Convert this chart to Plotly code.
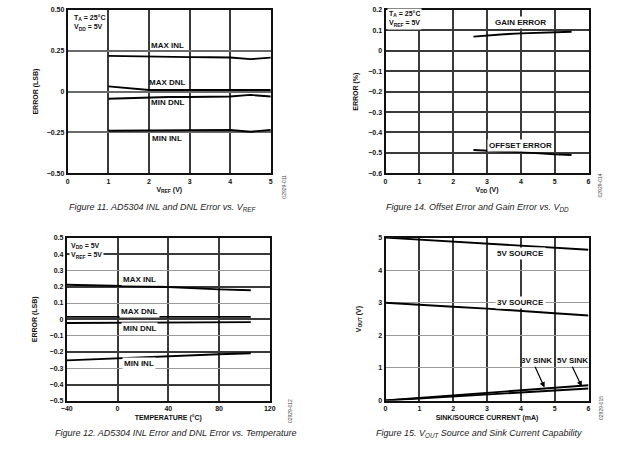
import plotly.graph_objects as go

# ---------------- data ----------------
# Figure 11: INL / DNL error vs VREF
vref = [1.0, 1.5, 2.0, 2.5, 3.0, 3.5, 4.0, 4.5, 5.0]
f11_max_inl = [0.219, 0.216, 0.214, 0.212, 0.211, 0.210, 0.209, 0.199, 0.208]
f11_max_dnl = [0.032, 0.020, 0.010, 0.010, 0.010, 0.010, 0.010, 0.010, 0.010]
f11_min_dnl = [-0.044, -0.039, -0.034, -0.033, -0.033, -0.031, -0.030, -0.020, -0.030]
f11_min_inl = [-0.239, -0.239, -0.239, -0.238, -0.238, -0.237, -0.235, -0.245, -0.235]

# Figure 14: offset / gain error vs VDD
vdd = [2.6, 3.0, 3.5, 4.0, 4.5, 5.0, 5.5]
gain_err = [0.069, 0.075, 0.081, 0.085, 0.088, 0.091, 0.093]
offset_err = [-0.486, -0.490, -0.493, -0.496, -0.502, -0.507, -0.510]

# Figure 12: INL / DNL error vs temperature
temp = [-40, 0, 40, 80, 105]
f12_max_inl = [0.212, 0.206, 0.198, 0.184, 0.178]
f12_max_dnl = [0.015, 0.015, 0.015, 0.015, 0.015]
f12_min_dnl = [-0.023, -0.021, -0.020, -0.018, -0.017]
f12_min_inl = [-0.252, -0.238, -0.228, -0.214, -0.208]

# Figure 15: VOUT source / sink capability
current = [0, 1, 2, 3, 4, 5, 6]
src_5v = [5.00, 4.94, 4.88, 4.82, 4.76, 4.69, 4.63]
src_3v = [3.00, 2.95, 2.88, 2.82, 2.76, 2.68, 2.61]
sink_3v = [0.00, 0.08, 0.16, 0.24, 0.32, 0.40, 0.47]
sink_5v = [0.00, 0.06, 0.12, 0.18, 0.24, 0.30, 0.37]

# tick labels
f11_yticks = [0.50, 0.25, 0, -0.25, -0.50]
f11_yticktext = ["0.50", "0.25", "0", "\u22120.25", "\u22120.50"]
f12_xticks = [-40, 0, 40, 80, 120]
f12_xticktext = ["\u221240", "0", "40", "80", "120"]

captions = [
    "Figure 11. AD5304 INL and DNL Error vs. V<sub>REF</sub>",
    "Figure 14. Offset Error and Gain Error vs. V<sub>DD</sub>",
    "Figure 12. AD5304 INL Error and DNL Error vs. Temperature",
    "Figure 15. V<sub>OUT</sub> Source and Sink Current Capability",
]
codes = ["02929-011", "02929-014", "02929-012", "02929-015"]

# ---------------- style ----------------
FONT = "Liberation Sans, Arial, sans-serif"
CAPFONT = "Liberation Sans Narrow, Arial Narrow, Liberation Sans, sans-serif"
tickfont = dict(family=FONT, size=7, color="#111", weight="bold")
lblfont = dict(family=FONT, size=8, color="#111", weight="bold")
titlefont = dict(family=FONT, size=7, color="#111", weight="bold")
LINE = dict(color="black", width=1.9)
DARK = "#3a3a3a"
LIGHT = "#9a9a9a"

fig = go.Figure()

def add_line(x, y, xa, ya):
    fig.add_trace(go.Scatter(x=x, y=y, mode="lines", line=LINE, xaxis=xa, yaxis=ya,
                             showlegend=False, hoverinfo="skip"))

for s in [f11_max_inl, f11_max_dnl, f11_min_dnl, f11_min_inl]:
    add_line(vref, s, "x", "y")
for s in [gain_err, offset_err]:
    add_line(vdd, s, "x2", "y2")
for s in [f12_max_inl, f12_max_dnl, f12_min_dnl, f12_min_inl]:
    add_line(temp, s, "x3", "y3")
for s in [src_5v, src_3v, sink_3v, sink_5v]:
    add_line(current, s, "x4", "y4")

def xax(domain, rng, dtick, anchor, gridcolor, title, standoff=6, gw=2, **kw):
    d = dict(domain=domain, range=rng, dtick=dtick, anchor=anchor, showgrid=True,
             gridcolor=gridcolor, gridwidth=gw, zeroline=False, showline=True,
             mirror=True, linecolor="#111", linewidth=2, ticks="", tickfont=tickfont,
             ticklen=0, title=dict(text=title, font=titlefont, standoff=standoff), fixedrange=True)
    d.update(kw)
    return d

yax = xax

px = lambda v: v / 620.0
py = lambda v: 1 - v / 455.0

fig.update_layout(
    width=620, height=455, margin=dict(l=0, r=0, t=0, b=0),
    paper_bgcolor="white", plot_bgcolor="white", showlegend=False,
    xaxis=xax([px(63), px(270)], [0, 5], 1, "y", DARK, "V<sub>REF</sub> (V)", 3),
    yaxis=yax([py(172), py(6)], [-0.5, 0.5], 0.25, "x", "#6a6a6a", "ERROR (LSB)", 7,
              tickmode="array", tickvals=f11_yticks, ticktext=f11_yticktext),
    xaxis2=xax([px(387), px(594)], [0, 6], 1, "y2", DARK, "V<sub>DD</sub> (V)", 3),
    yaxis2=yax([py(172), py(6)], [-0.6, 0.2], 0.1, "x2", DARK, "ERROR (%)", 9),
    xaxis3=xax([px(62), px(269)], [-40, 120], 40, "y3", DARK, "TEMPERATURE (\u00b0C)", 4,
               tickmode="array", tickvals=f12_xticks, ticktext=f12_xticktext),
    yaxis3=yax([py(403), py(237.5)], [-0.5, 0.5], 0.1, "x3", LIGHT, "ERROR (LSB)", 11, gw=1),
    yaxis5=dict(domain=[py(403), py(237.5)], range=[-0.5, 0.5], dtick=0.2, tick0=0,
                overlaying="y3", anchor="x3", showgrid=True, gridcolor=DARK, gridwidth=2,
                zeroline=False, showticklabels=False, showline=False, fixedrange=True),
    xaxis4=xax([px(387), px(594)], [0, 6], 1, "y4", DARK, "SINK/SOURCE CURRENT (mA)", 4),
    yaxis4=yax([py(402.7), py(237.3)], [0, 5], 1, "x4", LIGHT, "V<sub>OUT</sub> (V)", 16, gw=1),
)
# dummy trace so overlay grid axis renders
fig.add_trace(go.Scatter(x=[None], y=[None], xaxis="x3", yaxis="y5", showlegend=False))

ann = []
def label(text, x, y, xr, yr, bg=None, align="center", xanchor="center", font=lblfont):
    d = dict(text=text, x=x, y=y, xref=xr, yref=yr, showarrow=False, font=font,
             align=align, xanchor=xanchor, yanchor="middle")
    if bg:
        d.update(bgcolor=bg, borderpad=1)
    ann.append(d)

small = dict(family=FONT, size=7, color="#111", weight="bold")
# Figure 11 labels
label("MAX INL", 2.45, 0.285, "x", "y")
label("MAX DNL", 2.45, 0.054, "x", "y")
label("MIN DNL", 2.45, -0.066, "x", "y")
label("MIN INL", 2.45, -0.287, "x", "y")
label("T<sub>A</sub> = 25\u00b0C<br>V<sub>DD</sub> = 5V", 0.1, 0.42, "x", "y", align="left", xanchor="left", font=small)
# Figure 14 labels
label("GAIN ERROR", 4.0, 0.14, "x2", "y2", bg="white")
label("OFFSET ERROR", 4.0, -0.463, "x2", "y2", bg="white")
label("T<sub>A</sub> = 25\u00b0C<br>V<sub>REF</sub> = 5V", 0.05, 0.155, "x2", "y2", align="left", xanchor="left",
      bg="white", font=small)
# Figure 12 labels
label("MAX INL", 17, 0.244, "x3", "y3", bg="white")
label("MAX DNL", 17, 0.049, "x3", "y3", bg="white")
label("MIN DNL", 17, -0.059, "x3", "y3", bg="white")
label("MIN INL", 17, -0.269, "x3", "y3", bg="white")
label("V<sub>DD</sub> = 5V<br>V<sub>REF</sub> = 5V", -38, 0.42, "x3", "y3", align="left", xanchor="left",
      bg="white", font=small)
# Figure 15 labels
label("5V SOURCE", 3.98, 4.52, "x4", "y4", bg="white")
label("3V SOURCE", 3.98, 3.02, "x4", "y4", bg="white")
label("3V SINK", 4.45, 1.22, "x4", "y4")
label("5V SINK", 5.52, 1.22, "x4", "y4")
for (tx, ty, hx, hy) in [(4.4, 1.08, 4.7, 0.40), (5.5, 1.08, 5.8, 0.43)]:
    ann.append(dict(text="", x=hx, y=hy, ax=tx, ay=ty, xref="x4", yref="y4", axref="x4", ayref="y4",
                    showarrow=True, arrowhead=2, arrowsize=0.9, arrowwidth=1.2, arrowcolor="black"))

capfont = dict(family=CAPFONT, size=9, color="#222", style="italic")
for text, (cx, cy) in zip(captions, [(160, 207), (481, 207), (173, 436), (482, 436)]):
    ann.append(dict(text=text, x=px(cx), y=py(cy), xref="paper", yref="paper", showarrow=False,
                    font=capfont, xanchor="center", yanchor="middle"))
for text, (cx, cy) in zip(codes, [(284, 186), (606, 184), (289, 413), (606, 410)]):
    ann.append(dict(text=text, x=px(cx), y=py(cy), xref="paper", yref="paper", showarrow=False,
                    font=dict(family=FONT, size=5, color="#444"), textangle=-90,
                    xanchor="center", yanchor="middle"))

fig.update_layout(annotations=ann)
fig.write_html("out.html", config={"displayModeBar": False, "staticPlot": True},
               post_script="document.body.style.margin='0px';document.body.style.overflow='hidden';")
